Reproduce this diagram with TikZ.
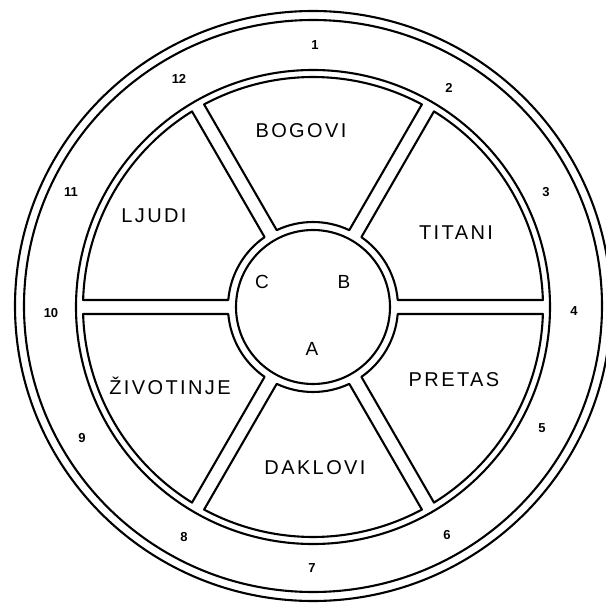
\documentclass[tikz,border=0pt]{standalone}
\usepackage{fontspec}
\setmainfont{Liberation Sans}
\newfontfamily\handfont[LetterSpace=12]{Liberation Sans}
\begin{document}
\begin{tikzpicture}[x=1pt,y=1pt,
  ln/.style={line width=2.1pt, line join=round},
  lbl/.style={font=\handfont\fontsize{20}{20}\selectfont, inner sep=0pt},
  hub/.style={font=\fontsize{19}{19}\selectfont, inner sep=0pt},
  num/.style={font=\bfseries\fontsize{13}{13}\selectfont, inner sep=0pt}]
\useasboundingbox (-313,-298) rectangle (292,307);
\fill[white] (-313,-298) rectangle (292,307);
% outer double circle
\draw[ln] (0,1) ellipse [x radius=298, y radius=295];
\draw[ln] (0,1) ellipse [x radius=289, y radius=286];
% wheel rim (outer line) and hub (inner line)
\draw[ln] (0,0) circle[radius=237];
\draw[ln] (0,0) circle[radius=77];
% six cells between the double spokes
\foreach \a/\bb in {0/60,60/120,120/180,180/240,240/300,300/360} {
  \draw[ln] (\a+4.72:85) arc[start angle=\a+4.72, end angle=\bb-4.72, radius=85]
    -- (\bb-1.74:230) arc[start angle=\bb-1.74, end angle=\a+1.74, radius=230] -- cycle;
}
% cell labels
\node[lbl] (bogovi) at (-12,176) {BOGOVI};
\node[lbl] (titani) at (143,74) {TITANI};
\node[lbl] (pretas) at (141,-73) {PRETAS};
\node[lbl] (daklovi) at (2,-161) {DAKLOVI};
\node[lbl] (zivotinje) at (-143,-79) {ŽIVOTINJE};
\node[lbl] (ljudi) at (-159,91) {LJUDI};
% hub labels
\node[hub] (c) at (-51,25) {C};
\node[hub] (b) at (31,25) {B};
\node[hub] (a) at (-1,-42) {A};
% numbers around the rim
\node[num] (n1) at (2,262) {1};
\node[num] (n2) at (136,219) {2};
\node[num] (n3) at (233,115) {3};
\node[num] (n4) at (261,-4) {4};
\node[num] (n5) at (229,-121) {5};
\node[num] (n6) at (134,-228) {6};
\node[num] (n7) at (-1,-261) {7};
\node[num] (n8) at (-129,-230) {8};
\node[num] (n9) at (-231,-131) {9};
\node[num] (n10) at (-262,-6) {10};
\node[num] (n11) at (-242,115) {11};
\node[num] (n12) at (-134,228) {12};
\end{tikzpicture}
\end{document}
